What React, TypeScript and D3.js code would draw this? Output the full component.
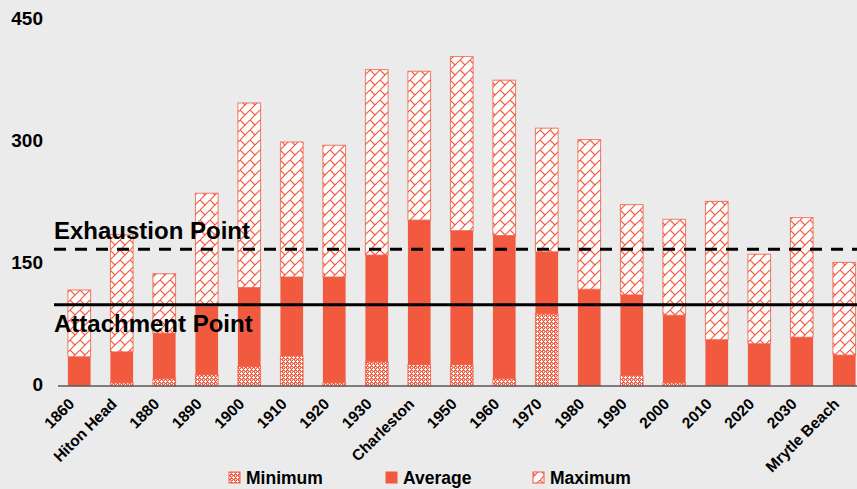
import React from "react";
import * as d3 from "d3";

const categories = [
  "1860", "Hiton Head", "1880", "1890", "1900", "1910", "1920", "1930",
  "Charleston", "1950", "1960", "1970", "1980", "1990", "2000", "2010",
  "2020", "2030", "Mrytle Beach",
];
const minimum = [0, 4, 9, 14, 24, 37, 4, 30, 26, 26, 9, 89, 0, 13, 4, 0, 0, 0, 0];
const average = [36, 38, 56, 84, 97, 97, 130, 131, 178, 165, 176, 76, 119, 99, 83, 57, 52, 60, 38];
const maximum = [82, 144, 73, 139, 227, 166, 162, 228, 183, 214, 191, 152, 184, 111, 118, 170, 110, 147, 114];
const yTicks = [0, 150, 300, 450];
const exhaustionPoint = 168;
const attachmentPoint = 100;
const seriesKeys = ["Minimum", "Average", "Maximum"];

const W = 857;
const H = 489;
const RED = "#F15A3F";
const FONT = "'Liberation Sans', Arial, Helvetica, sans-serif";

export default function App() {
  const rows = categories.map((c, i) => ({
    cat: c,
    Minimum: minimum[i],
    Average: average[i],
    Maximum: maximum[i],
  }));
  const stacked = d3.stack<any>().keys(seriesKeys)(rows);

  const x = d3
    .scaleBand<string>()
    .domain(categories)
    .range([58, 865.5])
    .paddingInner(0.466)
    .paddingOuter(0.233);
  const y = d3.scaleLinear().domain([0, 450]).range([386, 20]);

  const fills: Record<string, string> = {
    Minimum: "url(#patMin)",
    Average: RED,
    Maximum: "url(#patMax)",
  };

  const legend = [
    { key: "Minimum", x: 229 },
    { key: "Average", x: 386 },
    { key: "Maximum", x: 533 },
  ];

  return (
    <svg
      width={W}
      height={H}
      style={{ position: "absolute", left: 0, top: 0, display: "block" }}
      fontFamily={FONT}
    >
      <defs>
        <pattern id="patMin" width={4} height={4} patternUnits="userSpaceOnUse">
          <rect width={4} height={4} fill={RED} />
          <rect x={1} y={0} width={1} height={3} fill="#fff" />
          <rect x={0} y={1} width={3} height={1} fill="#fff" />
          <rect x={3} y={3} width={1} height={1} fill="#fff" />
          <rect x={3} y={0} width={1} height={1} fill="#fff" fillOpacity={0.4} />
          <rect x={0} y={3} width={1} height={1} fill="#fff" fillOpacity={0.4} />
        </pattern>
        <pattern id="patMax" width={10} height={10} patternUnits="userSpaceOnUse">
          <rect width={10} height={10} fill="#fff" />
          <path d="M-1,11 L11,-1" stroke={RED} strokeWidth={1.2} />
          <path d="M0,0 L5,5" stroke={RED} strokeWidth={1.2} />
        </pattern>
      </defs>
      <rect width={W} height={H} fill="#EBEBEB" />

      {stacked.map((s) => (
        <g key={s.key}>
          {s.map((d, i) => {
            const h = y(d[0]) - y(d[1]);
            if (h <= 0) return null;
            return (
              <rect
                key={i}
                x={x(categories[i])}
                y={y(d[1])}
                width={x.bandwidth()}
                height={h}
                fill={fills[s.key]}
                stroke={s.key === "Average" ? "none" : RED}
                strokeOpacity={0.8}
                strokeWidth={1}
              />
            );
          })}
        </g>
      ))}

      {/* category axis baseline */}
      <line x1={58} x2={W} y1={y(0)} y2={y(0)} stroke="#595959" strokeWidth={1.5} />

      {yTicks.map((t) => (
        <text
          key={t}
          x={43}
          y={y(t)}
          textAnchor="end"
          dominantBaseline="middle"
          fontSize={19}
          fontWeight="bold"
          fill="#000"
        >
          {t}
        </text>
      ))}

      {categories.map((c) => {
        const cx = (x(c) as number) + x.bandwidth() / 2 - 4;
        const cy = 405;
        return (
          <text
            key={c}
            transform={`translate(${cx},${cy}) rotate(-45)`}
            textAnchor="end"
            fontSize={15.5}
            fontWeight="bold"
            fill="#000"
          >
            {c}
          </text>
        );
      })}

      {/* reference lines */}
      <line
        x1={54}
        x2={W}
        y1={y(exhaustionPoint)}
        y2={y(exhaustionPoint)}
        stroke="#000"
        strokeWidth={3}
        strokeDasharray="12 9"
      />
      <line
        x1={54}
        x2={W}
        y1={y(attachmentPoint)}
        y2={y(attachmentPoint)}
        stroke="#000"
        strokeWidth={3}
      />
      <text x={54} y={239} fontSize={24} fontWeight="bold" fill="#000">
        Exhaustion Point
      </text>
      <text x={54} y={332} fontSize={24} fontWeight="bold" fill="#000">
        Attachment Point
      </text>

      {legend.map((l) => (
        <g key={l.key}>
          <rect
            x={l.x}
            y={472}
            width={11}
            height={11}
            fill={fills[l.key]}
            stroke={RED}
            strokeWidth={1}
          />
          <text x={l.x + 17} y={484} fontSize={17.5} fontWeight="bold" fill="#000">
            {l.key}
          </text>
        </g>
      ))}
    </svg>
  );
}
